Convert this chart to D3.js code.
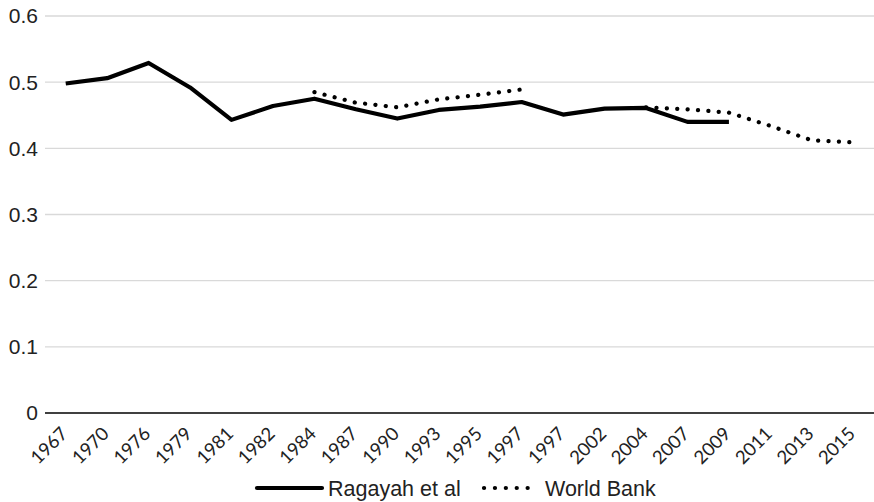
<!DOCTYPE html>
<html>
<head>
<meta charset="utf-8">
<script src="https://cdn.jsdelivr.net/npm/d3@7"></script>
<style>
  body { margin: 0; background: #fff; }
  svg { font-family: "Liberation Sans", Arial, sans-serif; }
</style>
</head>
<body>
<div id="chart"></div>
<script>
/* Line chart: Gini estimates, Ragayah et al vs World Bank */

const years = ["1967","1970","1976","1979","1981","1982","1984","1987","1990","1993",
               "1995","1997","1997","2002","2004","2007","2009","2011","2013","2015"];

const ragayah = [0.498, 0.506, 0.529, 0.492, 0.443, 0.464, 0.475, 0.459, 0.445, 0.458,
                 0.463, 0.470, 0.451, 0.460, 0.461, 0.440, 0.440, null, null, null];

const worldBank = [null, null, null, null, null, null, 0.485, 0.469, 0.462, 0.474,
                   0.481, 0.489, null, null, 0.462, 0.459, 0.454, 0.434, 0.412, 0.409];

const yTicks = [0, 0.1, 0.2, 0.3, 0.4, 0.5, 0.6];

const width = 874,
      height = 502,
      margin = ({ top: 16, right: 0, bottom: 89, left: 45 });

let svg = d3.select("#chart")
            .append("svg")
            .attr("width", width)
            .attr("height", height);

const x = d3.scaleBand()
            .domain(d3.range(years.length))
            .range([margin.left, width - margin.right]);

const y = d3.scaleLinear()
            .domain([0, 0.6])
            .range([height - margin.bottom, margin.top]);

const cx = i => x(i) + x.bandwidth() / 2;

// gridlines
svg.append("g")
    .selectAll("line")
    .data(yTicks.filter(d => d > 0))
    .join("line")
    .attr("x1", margin.left)
    .attr("x2", width - margin.right)
    .attr("y1", d => y(d))
    .attr("y2", d => y(d))
    .attr("stroke", "#d9d9d9")
    .attr("stroke-width", 1.3);

// y labels
svg.append("g")
    .selectAll("text")
    .data(yTicks)
    .join("text")
    .attr("x", 38)
    .attr("y", d => y(d))
    .attr("dy", "0.35em")
    .attr("text-anchor", "end")
    .attr("font-size", 21)
    .attr("fill", "#222")
    .text(d => d === 0 ? "0" : d3.format(".1f")(d));

// x axis line
svg.append("line")
    .attr("x1", margin.left)
    .attr("x2", width - margin.right)
    .attr("y1", y(0))
    .attr("y2", y(0))
    .attr("stroke", "#000")
    .attr("stroke-width", 1.5);

// x labels
svg.append("g")
    .selectAll("text")
    .data(years)
    .join("text")
    .attr("transform", (d, i) => `translate(${cx(i) + 3},${y(0) + 22}) rotate(-45)`)
    .attr("text-anchor", "end")
    .attr("font-family", "Lato, 'Open Sans', sans-serif")
    .attr("font-size", 18.5)
    .attr("fill", "#222")
    .text(d => d);

const line = d3.line()
    .defined(d => d != null)
    .x((d, i) => cx(i))
    .y(d => y(d));

svg.append("path")
    .attr("d", line(worldBank))
    .attr("fill", "none")
    .attr("stroke", "#000")
    .attr("stroke-width", 4.2)
    .attr("stroke-linecap", "round")
    .attr("stroke-dasharray", "0.1,10.3");

svg.append("path")
    .attr("d", line(ragayah))
    .attr("fill", "none")
    .attr("stroke", "#000")
    .attr("stroke-width", 4.2)
    .attr("stroke-linejoin", "round");

// legend
const ly = 488;
let legend = svg.append("g");

legend.append("line")
    .attr("x1", 257).attr("x2", 322)
    .attr("y1", ly).attr("y2", ly)
    .attr("stroke", "#000")
    .attr("stroke-width", 4.2)
    .attr("stroke-linecap", "round");

legend.append("text")
    .attr("x", 328).attr("y", ly)
    .attr("dy", "0.35em")
    .attr("font-size", 21.5)
    .attr("fill", "#222")
    .text("Ragayah et al");

legend.append("line")
    .attr("x1", 484).attr("x2", 538)
    .attr("y1", ly).attr("y2", ly)
    .attr("stroke", "#000")
    .attr("stroke-width", 4.2)
    .attr("stroke-linecap", "round")
    .attr("stroke-dasharray", "0.1,10.8");

legend.append("text")
    .attr("x", 545).attr("y", ly)
    .attr("dy", "0.35em")
    .attr("font-size", 21.5)
    .attr("fill", "#222")
    .text("World Bank");
</script>
</body>
</html>
